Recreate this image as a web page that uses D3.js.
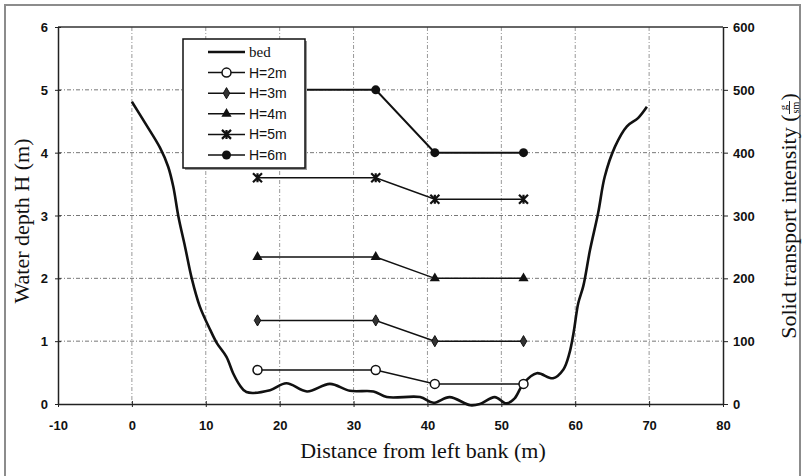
<html>

<head>
    <meta charset="UTF-8">
    <title>Solid transport</title>
    <style>
        body {
            margin: 0;
            background: #fff;
        }

        .tick-label {
            font: bold 13px "Liberation Sans", Arial, sans-serif;
            fill: #111;
        }

        .title {
            font: 22px "Liberation Serif", "Times New Roman", serif;
            fill: #111;
        }

        .grid line {
            stroke: #777;
            stroke-width: 1;
            stroke-dasharray: 4, 2, 1, 2;
        }

        .legend text {
            font: 14px "Liberation Sans Narrow", "Liberation Sans", Arial, sans-serif;
            fill: #111;
        }
    </style>
    <script src="https://d3js.org/d3.v7.min.js"></script>
</head>

<body>
    <script type="text/javascript">
        // channel cross-section (x in m, bed level in m)
        const bedX = [0, 1.8, 3.8, 4.9, 5.6, 6.3, 7.2, 8.1, 9.2, 10.6, 11.5, 12.8, 13.7, 14.6, 15.5,
            18.7, 20.9, 23.7, 26.8, 29.5, 32.7, 34.5, 39.0, 40.8, 43.0, 45.8, 47.1, 49.1, 50.7, 51.8,
            53.0, 54.8, 57.0, 58.4, 59.2, 59.8, 60.4, 61.1, 62.0, 63.1, 64.0, 65.4, 67.0, 68.5, 69.7]
        const bedY = [4.81, 4.47, 4.08, 3.78, 3.46, 2.98, 2.50, 2.0, 1.55, 1.18, 0.97, 0.75, 0.49, 0.30, 0.19,
            0.22, 0.33, 0.2, 0.32, 0.21, 0.2, 0.11, 0.11, 0.02, 0.11, -0.02, 0, 0.11, 0.01, 0.09,
            0.33, 0.49, 0.41, 0.55, 0.8, 1.15, 1.6, 1.88, 2.45, 3.04, 3.62, 4.1, 4.42, 4.55, 4.73]

        // measuring verticals and solid transport intensity (g/sm)
        const stations = [17, 33, 41, 53]
        const seriesNames = ['H=2m', 'H=3m', 'H=4m', 'H=5m', 'H=6m']
        const h2 = [54, 54, 32, 32]
        const h3 = [133, 133, 100, 100]
        const h4 = [234, 234, 200, 200]
        const h5 = [360, 360, 326, 326]
        const h6 = [500, 500, 400, 400]
        const seriesValues = [h2, h3, h4, h5, h6]

        const xTicks = [-10, 0, 10, 20, 30, 40, 50, 60, 70, 80]
        const yTicks = [0, 1, 2, 3, 4, 5, 6]
        const y2Ticks = [0, 100, 200, 300, 400, 500, 600]

        const W = 805, H = 476
        const pLeft = 58, pRight = 723, pTop = 27, pBottom = 404

        const x = d3.scaleLinear().domain([-10, 80]).range([pLeft, pRight])
        const y = d3.scaleLinear().domain([0, 6]).range([pBottom, pTop])
        const y2 = d3.scaleLinear().domain([0, 600]).range([pBottom, pTop])

        const svg = d3.select('body').append('svg')
            .attr('width', W)
            .attr('height', H)

        // outer frame
        svg.append('path')
            .attr('d', 'M5,480 V5 H800 V480')
            .attr('fill', 'none')
            .attr('stroke', '#8c8c8c')
            .attr('stroke-width', 2)

        // grid
        const grid = svg.append('g').attr('class', 'grid')
        grid.selectAll('.gx')
            .data(xTicks.slice(1, -1))
            .enter().append('line')
            .attr('x1', d => x(d)).attr('x2', d => x(d))
            .attr('y1', pTop).attr('y2', pBottom)
            .style('stroke', '#999')
        grid.selectAll('.gy')
            .data(yTicks.slice(1, -1))
            .enter().append('line')
            .attr('x1', pLeft).attr('x2', pRight)
            .attr('y1', d => y(d)).attr('y2', d => y(d))

        // top frame line of plot
        svg.append('line').attr('x1', pLeft).attr('x2', pRight).attr('y1', pTop).attr('y2', pTop)
            .attr('stroke', '#333').attr('stroke-width', 1.5)

        // axes
        const plain = d => String(d)
        const xAxis = svg.append('g')
            .attr('transform', 'translate(0,' + pBottom + ')')
            .call(d3.axisBottom(x).tickValues(xTicks).tickFormat(plain).tickSize(3).tickSizeOuter(0))
        const yAxis = svg.append('g')
            .attr('transform', 'translate(' + pLeft + ',0)')
            .call(d3.axisLeft(y).tickValues(yTicks).tickFormat(plain).tickSize(3).tickSizeOuter(0))
        const y2Axis = svg.append('g')
            .attr('transform', 'translate(' + pRight + ',0)')
            .call(d3.axisRight(y2).tickValues(y2Ticks).tickFormat(plain).tickSize(5).tickSizeOuter(0))

        for (const ax of [xAxis, yAxis, y2Axis]) {
            ax.attr('font-family', null).attr('font-size', null)
            ax.select('.domain').attr('stroke', '#222').attr('stroke-width', 1.5)
            ax.selectAll('.tick line').attr('stroke', '#222')
            ax.selectAll('text').attr('class', 'tick-label')
        }
        xAxis.selectAll('.tick line').attr('y1', -3)
        yAxis.selectAll('.tick line').attr('x1', 3)
        xAxis.selectAll('text').attr('dy', null).attr('y', 26)
        yAxis.selectAll('text').attr('x', -10).attr('dy', '0.35em')
        y2Axis.selectAll('text').attr('x', 10).attr('dy', '0.35em')

        // bed line
        const bedLine = d3.line()
            .x((d, i) => x(bedX[i]))
            .y(d => y(d))
            .curve(d3.curveCatmullRom)
        svg.append('path')
            .datum(bedY)
            .attr('d', bedLine)
            .attr('fill', 'none')
            .attr('stroke', '#111')
            .attr('stroke-width', 2.6)

        // markers
        function marker(g, i) {
            if (i === 0) {
                g.append('circle').attr('r', 4.5).attr('fill', '#fff').attr('stroke', '#111').attr('stroke-width', 1.5)
            } else if (i === 1) {
                g.append('path').attr('d', d3.symbol(d3.symbolDiamond, 36)()).attr('fill', '#333').attr('stroke', '#111').attr('stroke-width', 1)
            } else if (i === 2) {
                g.append('path').attr('d', d3.symbol(d3.symbolTriangle, 45)()).attr('fill', '#111')
            } else if (i === 3) {
                g.append('path').attr('d', 'M-4.5,-4.5L4.5,4.5M-4.5,4.5L4.5,-4.5M0,-4.5V4.5')
                    .attr('stroke', '#111').attr('stroke-width', 2.2).attr('fill', 'none')
            } else {
                g.append('circle').attr('r', 4.5).attr('fill', '#111')
            }
        }

        const serLine = d3.line()
            .x((d, i) => x(stations[i]))
            .y(d => y2(d))

        seriesValues.forEach(function (vals, si) {
            const g = svg.append('g')
            g.append('path')
                .datum(vals)
                .attr('d', serLine)
                .attr('fill', 'none')
                .attr('stroke', '#111')
                .attr('stroke-width', si === 4 ? 2 : 1.5)
            g.selectAll('.pt')
                .data(vals)
                .enter().append('g')
                .attr('transform', (d, i) => 'translate(' + x(stations[i]) + ',' + y2(d) + ')')
                .each(function () { marker(d3.select(this), si) })
        })

        // legend
        const lg = svg.append('g').attr('class', 'legend')
        lg.append('rect')
            .attr('x', 185).attr('y', 41).attr('width', 122).attr('height', 129)
            .attr('fill', '#999')
        lg.append('rect')
            .attr('x', 183).attr('y', 39).attr('width', 122).attr('height', 129)
            .attr('fill', '#fff').attr('stroke', '#111').attr('stroke-width', 1.5)
        const rowY = d3.scaleLinear().domain([0, 5]).range([52, 155])
        const legendItems = ['bed'].concat(seriesNames)
        legendItems.forEach(function (name, i) {
            const ly = rowY(i)
            lg.append('line')
                .attr('x1', 208).attr('x2', 245).attr('y1', ly).attr('y2', ly)
                .attr('stroke', '#111').attr('stroke-width', i === 0 ? 2.6 : 1.5)
            if (i > 0) marker(lg.append('g').attr('transform', 'translate(226.5,' + ly + ')'), i - 1)
            const t = lg.append('text').attr('x', 249).attr('y', ly).attr('dy', '0.35em').text(name)
            if (i === 0) t.style('font-family', '"Liberation Serif", serif').style('font-size', '15px')
        })

        // titles
        svg.append('text')
            .attr('class', 'title')
            .attr('text-anchor', 'middle')
            .attr('x', 423).attr('y', 458)
            .text('Distance from left bank (m)')

        svg.append('text')
            .attr('class', 'title')
            .attr('text-anchor', 'middle')
            .attr('transform', 'translate(29,221) rotate(-90)')
            .text('Water depth H (m)')

        // right title with a stacked g / sm fraction
        const rg = svg.append('g').attr('transform', 'translate(796,216) rotate(-90)')
        const t1 = rg.append('text').attr('class', 'title').text('Solid transport intensity (')
        const t3 = rg.append('text').attr('class', 'title').text(')')
        const l1 = t1.node().getComputedTextLength()
        const l3 = t3.node().getComputedTextLength()
        const fw = 14
        const x0 = -(l1 + fw + l3) / 2
        t1.attr('x', x0)
        t3.attr('x', x0 + l1 + fw)
        const fc = x0 + l1 + fw / 2
        rg.append('text').attr('x', fc).attr('y', -9).attr('text-anchor', 'middle')
            .style('font', '11px "Liberation Serif", serif').text('g')
        rg.append('line').attr('x1', fc - 6.5).attr('x2', fc + 6.5).attr('y1', -6.5).attr('y2', -6.5)
            .attr('stroke', '#111').attr('stroke-width', 0.9)
        rg.append('text').attr('x', fc).attr('y', 2.5).attr('text-anchor', 'middle')
            .style('font', '10px "Liberation Serif", serif').text('sm')
    </script>
</body>

</html>
